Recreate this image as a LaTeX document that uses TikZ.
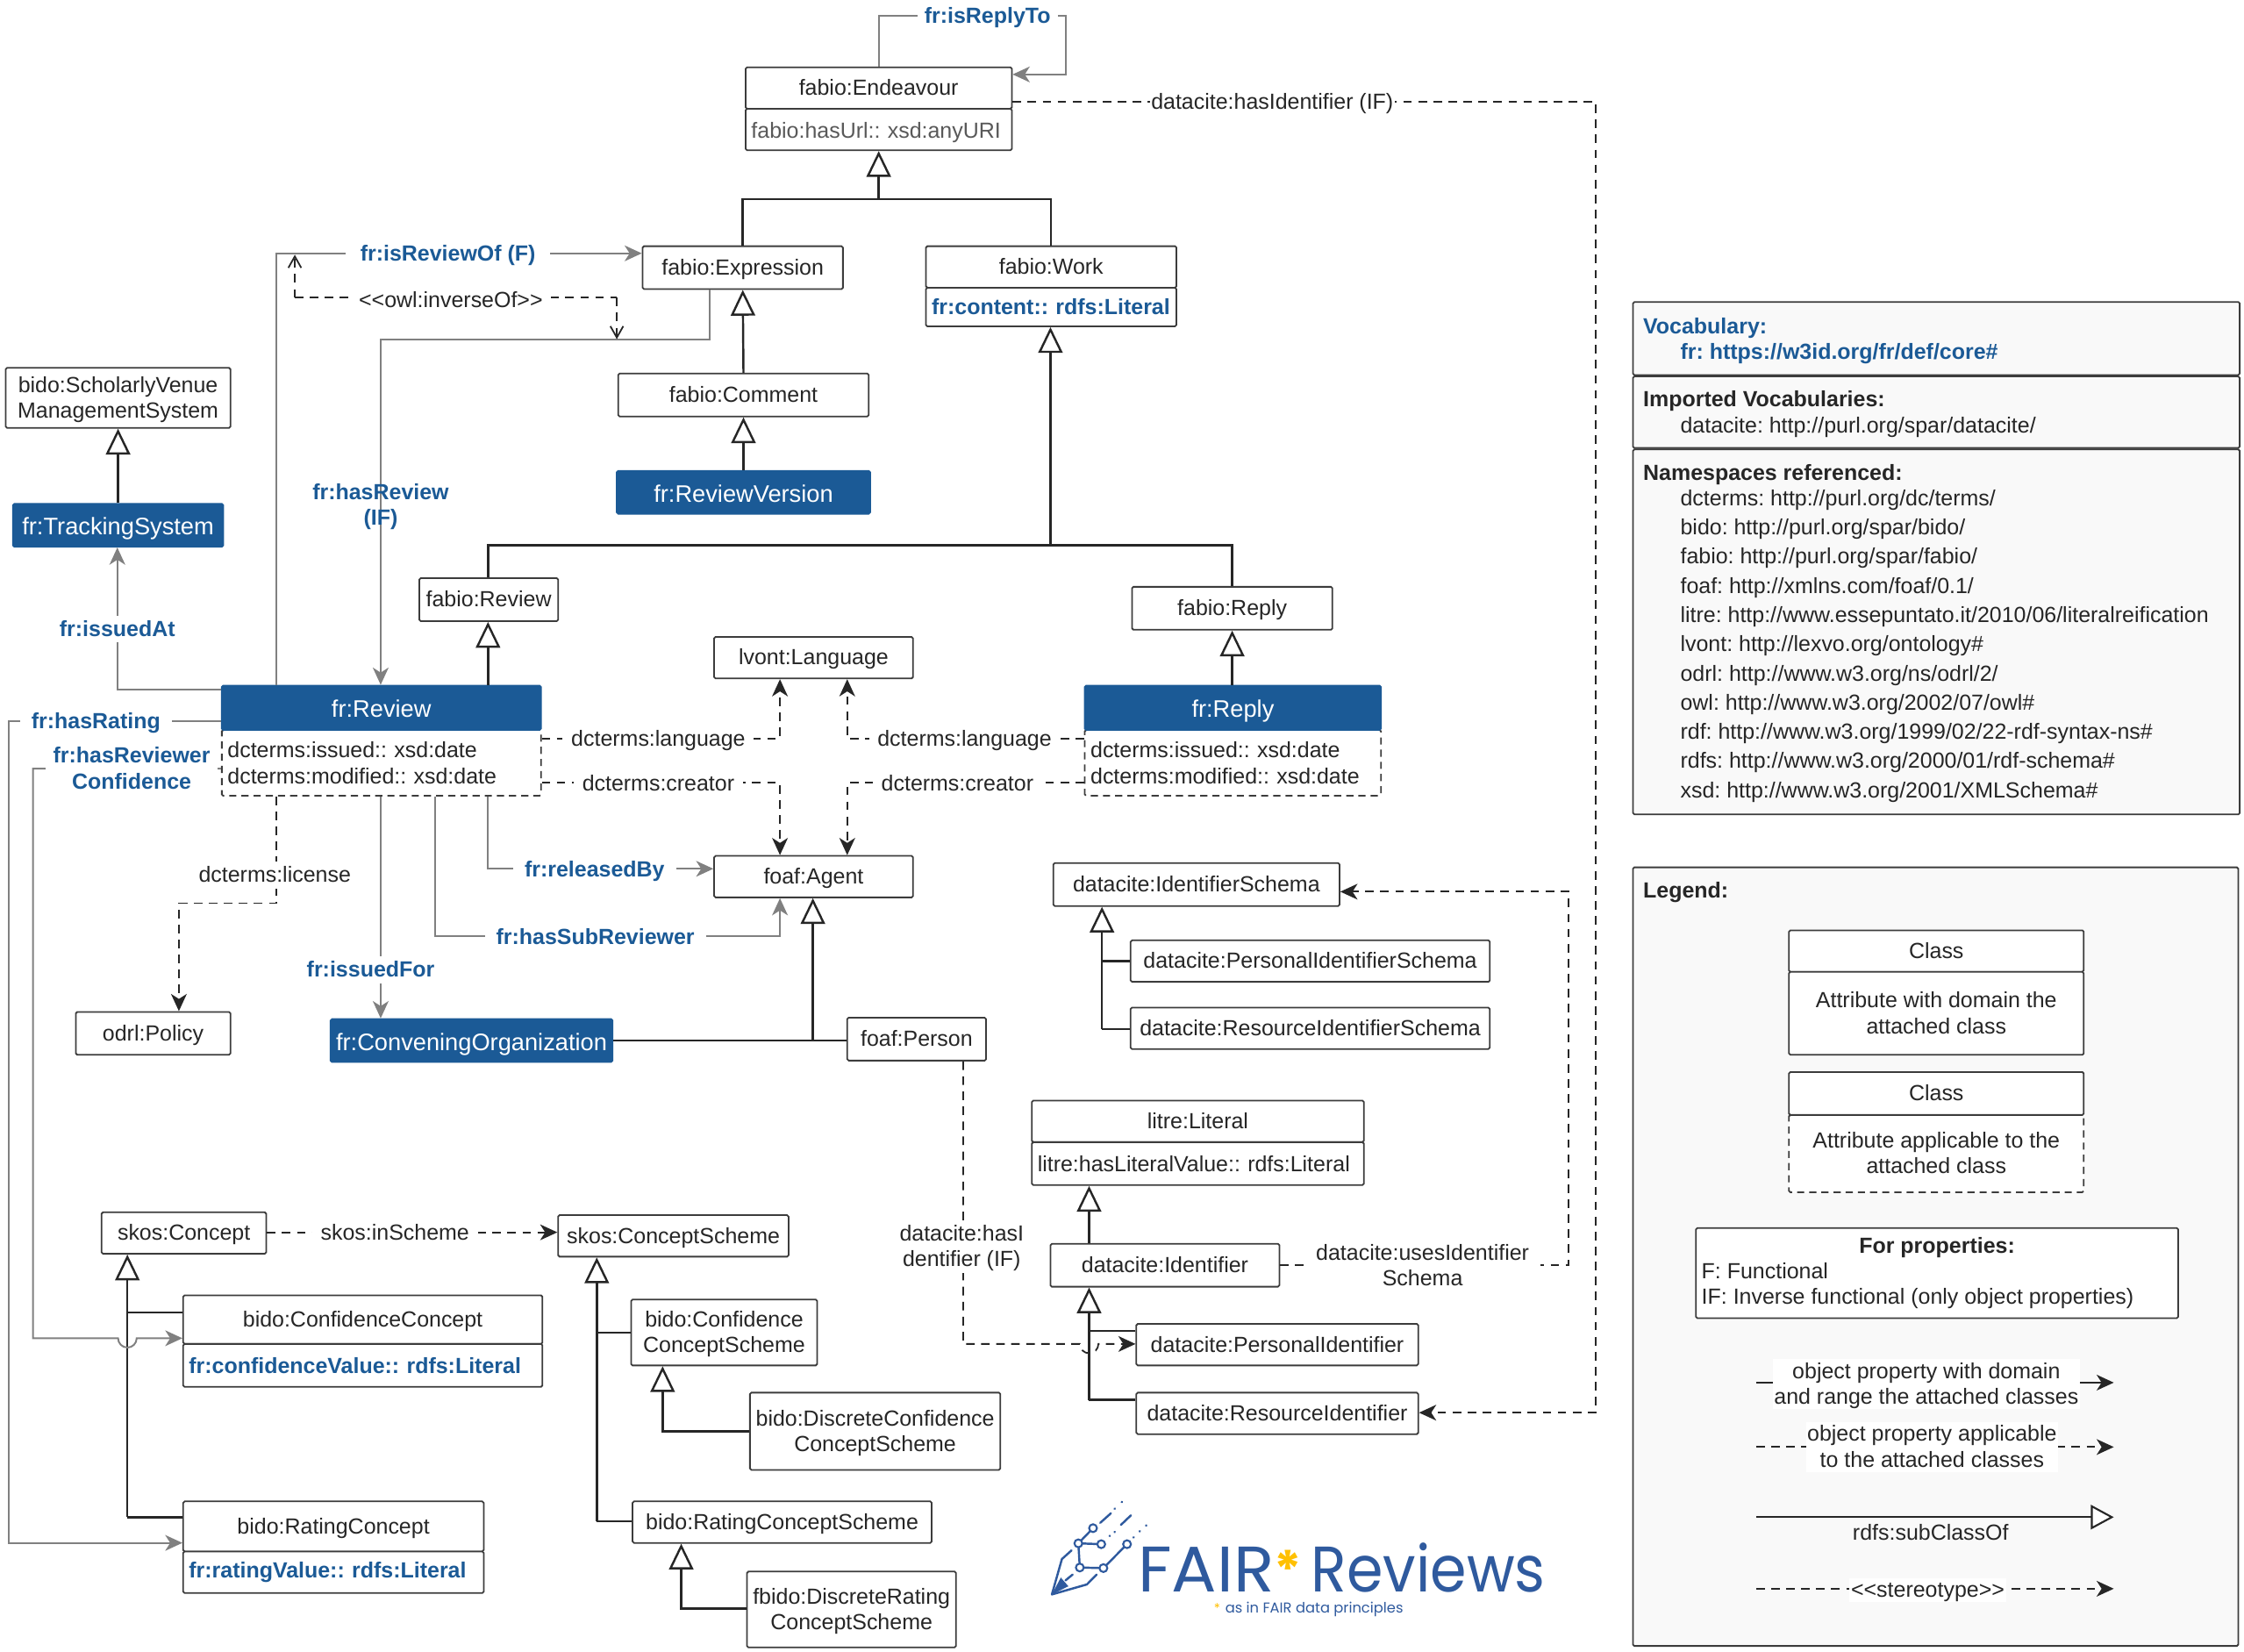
\documentclass[tikz,border=0pt]{standalone}
\usepackage{graphicx}
\usepackage{fontspec}
\setmainfont{Liberation Sans}
\newfontfamily\logofont{Poppins}
\usetikzlibrary{arrows.meta}
\definecolor{frblue}{HTML}{1B5A96}
\definecolor{ink}{HTML}{262626}
\definecolor{edge}{HTML}{3C3C3C}
\definecolor{propgray}{HTML}{808080}
\definecolor{panelbg}{HTML}{F9F9F9}
\definecolor{logoblue}{HTML}{2F5A9E}
\definecolor{logostar}{HTML}{FFC000}
\tikzset{
  x=1pt,y=-1pt,
  basefont/.style={font=\fontsize{15.3}{18}\selectfont,text=ink},
  boxbase/.style={basefont,draw=edge,line width=1.1pt,rounded corners=1pt,fill=white,inner sep=0pt,align=center},
  filledbox/.style={boxbase,fill=frblue,draw=frblue,text=white,font=\fontsize{16.7}{18}\selectfont},
  attrbox/.style={boxbase,align=left,inner xsep=4pt},
  dashbox/.style={attrbox,dash pattern=on 5pt off 3.5pt},
  panelbox/.style={boxbase,fill=panelbg},
  paneltext/.style={basefont,inner sep=0pt,align=left,anchor=north west},
  lab/.style={basefont,fill=white,inner xsep=6pt,inner ysep=1pt,align=center},
  plab/.style={lab,text=frblue,inner xsep=8pt,font=\fontsize{15.3}{18}\selectfont\bfseries},
  prop/.style={draw=propgray,line width=1.2pt},
  proparrow/.style={prop,-{Stealth[length=12pt,width=11pt,inset=3.5pt]}},
  dashline/.style={draw=ink,line width=1.1pt,dash pattern=on 6pt off 4.5pt},
  dasharrow/.style={dashline,-{Stealth[length=12pt,width=11pt,inset=3.5pt,fill=ink]}},
  thinarrow/.style={dashline,-{Straight Barb[length=8pt,width=9pt]}},
  subline/.style={draw=ink,line width=1.5pt},
  subarrow/.style={subline,-{Triangle[fill=white,length=18pt,width=17pt]}},
  logoline/.style={draw=logoblue,line width=1.5pt,line cap=round,line join=round},
  logodot/.style={draw=logoblue,fill=white,line width=1.3pt,circle,minimum size=5.5pt,inner sep=0pt},
}
\newcommand\bst{\rule{0pt}{13.5pt}}
\newcommand\est{\rule[-3.3pt]{0pt}{3.3pt}}
\newcommand\cls[7][boxbase]{\node[#1,minimum width={(#5-#3)*1pt},minimum height={(#6-#4)*1pt}] (#2) at ({(#3+#5)/2},{(#4+#6)/2}) {\bst #7\est};}
\newcommand\attrib[7][attrbox]{\node[#1,text width={(#5-#3-8)*1pt},minimum height={(#6-#4)*1pt}] (#2) at ({(#3+#5)/2},{(#4+#6)/2}) {#7};}
\newcommand\mklab[5][lab]{\node[#1] (#2) at (#3,#4) {\bst #5\est};}
\newcommand\blueattr[1]{\mbox{\textcolor{frblue}{\bfseries #1}}}
\newcommand\dlt{\textless\kern0pt\textless}
\newcommand\dgt{\textgreater\kern0pt\textgreater}
\begin{document}
\frenchspacing
\begin{tikzpicture}
\useasboundingbox (0,0) rectangle (1568,1154.2);
\fill[white] (0,0) rectangle (1568,1154.2);

% ---------- classes
\cls{endH}{521}{47}{707}{76}{fabio:Endeavour}
\attrib{endA}{521}{76}{707}{105}{\rule{0pt}{15.5pt}\textcolor{black!65}{fabio:hasUrl:: xsd:anyURI}\est}
\cls{expr}{449}{172}{589}{202}{fabio:Expression}
\cls{workH}{647}{172}{822}{201}{fabio:Work}
\attrib{workA}{647}{201}{822}{228}{\blueattr{fr:content:: rdfs:Literal}}
\cls{comment}{432}{261}{607}{291}{fabio:Comment}
\node[filledbox,minimum width=177pt,minimum height=30pt] (version) at (519.5,344) {\rule{0pt}{17pt}fr:ReviewVersion\est};
\cls{venue}{4}{257}{161}{299}{bido:ScholarlyVenue\\ManagementSystem}
\node[filledbox,minimum width=147pt,minimum height=30pt] (tracking) at (82.5,367) {\rule{0pt}{17pt}fr:TrackingSystem\est};
\cls{fabreview}{293}{404}{390}{434}{fabio:Review}
\attrib[dashbox]{revA}{155}{510}{378}{556}{dcterms:issued:: xsd:date\\dcterms:modified:: xsd:date}
\node[filledbox,minimum width=223pt,minimum height=31pt] (revH) at (266.5,494.5) {\rule{0pt}{17pt}fr:Review\est};
\cls{lang}{499}{445}{638}{474}{lvont:Language}
\cls{fabreply}{791}{410}{931}{440}{fabio:Reply}
\attrib[dashbox]{repA}{758}{510}{965}{556}{dcterms:issued:: xsd:date\\dcterms:modified:: xsd:date}
\node[filledbox,minimum width=207pt,minimum height=31pt] (repH) at (861.5,494.5) {\rule{0pt}{17pt}fr:Reply\est};
\cls{agent}{499}{598}{638}{627}{foaf:Agent}
\cls{person}{592}{711}{689}{741}{foaf:Person}
\cls{policy}{53}{707}{161}{737}{odrl:Policy}
\node[filledbox,minimum width=197pt,minimum height=30pt] (convening) at (329.5,727) {\rule{0pt}{17pt}fr:ConveningOrganization\est};
\cls{idschema}{736}{603}{936}{633}{datacite:IdentifierSchema}
\cls{pidschema}{790}{657}{1041}{686}{datacite:PersonalIdentifierSchema}
\cls{ridschema}{790}{704}{1041}{733}{datacite:ResourceIdentifierSchema}
\cls{litH}{721}{769}{953}{798}{litre:Literal}
\attrib{litA}{721}{798}{953}{828}{litre:hasLiteralValue:: rdfs:Literal}
\cls{ident}{734}{869}{894}{899}{datacite:Identifier}
\cls{pid}{794}{925}{991}{954}{datacite:PersonalIdentifier}
\cls{rid}{794}{973}{991}{1002}{datacite:ResourceIdentifier}
\cls{concept}{71}{847}{186}{876}{skos:Concept}
\cls{scheme}{390}{849}{551}{878}{skos:ConceptScheme}
\cls{confH}{128}{905}{379}{939}{bido:ConfidenceConcept}
\attrib{confA}{128}{939}{379}{969}{\blueattr{fr:confidenceValue:: rdfs:Literal}}
\cls{rateH}{128}{1049}{338}{1084}{bido:RatingConcept}
\attrib{rateA}{128}{1084}{338}{1113}{\blueattr{fr:ratingValue:: rdfs:Literal}}
\cls{confscheme}{441}{908}{571}{954}{bido:Confidence\\ConceptScheme}
\cls{dconf}{524}{973}{699}{1027}{bido:DiscreteConfidence\\ConceptScheme}
\cls{ratescheme}{442}{1049}{651}{1078}{bido:RatingConceptScheme}
\cls{drate}{522}{1098}{668}{1151}{fbido:DiscreteRating\\ConceptScheme}

% ---------- subclass connectors
\coordinate (j1) at (614,139);
\draw[subarrow] (j1) -- (endA.south -| j1);
\draw[subline] (expr.north) -- (expr.north |- j1) -- (workH.north |- j1) -- (workH.north);
\draw[subarrow] (comment.north) -- (expr.south);
\draw[subarrow] (version.north) -- (comment.south);
\draw[subarrow] (tracking.north) -- (venue.south);
\coordinate (j2) at (734,381);
\draw[subarrow] (j2) -- (workA.south -| j2);
\draw[subline] (fabreview.north -| 341,0) -- (341,381) -- (fabreply.north |- j2) -- (fabreply.north);
\draw[subarrow] (revH.north -| 341,0) -- (fabreview.south -| 341,0);
\draw[subarrow] (repH.north -| fabreply.south) -- (fabreply.south);
\coordinate (j3) at (568,727);
\draw[subarrow] (j3) -- (agent.south -| j3);
\draw[subline] (convening.east |- j3) -- (person.west |- j3);
\coordinate (j4) at (770,719);
\draw[subarrow] (j4) -- (idschema.south -| j4);
\draw[subline] (pidschema.west) -- (pidschema.west -| j4);
\draw[subline] (ridschema.west |- j4) -- (j4);
\draw[subarrow] (ident.north -| 761,0) -- (litA.south -| 761,0);
\coordinate (j5) at (761,978);
\draw[subarrow] (j5) -- (ident.south -| j5);
\draw[subline] (pid.west |- 0,930) -- (761,930);
\draw[subline] (rid.west |- j5) -- (j5);
\coordinate (j6) at (89,1060);
\draw[subarrow] (j6) -- (concept.south -| j6);
\draw[subline] (confH.west |- 0,917) -- (89,917);
\draw[subline] (rateH.west |- j6) -- (j6);
\coordinate (j7) at (417,1063);
\draw[subarrow] (j7) -- (scheme.south -| j7);
\draw[subline] (confscheme.west |- 0,931) -- (417,931);
\draw[subline] (ratescheme.west |- j7) -- (j7);
\draw[subarrow] (dconf.west |- 0,1000) -- (463,1000) -- (confscheme.south -| 463,0);
\draw[subarrow] (drate.west |- 0,1124) -- (476,1124) -- (ratescheme.south -| 476,0);

% ---------- gray object properties
\draw[proparrow] (endH.north) -- (endH.north |- 0,11) -- (745,11) -- (745,52) -- (endH.east |- 0,52);
\draw[proparrow] (revH.north -| 193,0) -- (193,177) -- (expr.west |- 0,177);
\draw[proparrow] (expr.south -| 496,0) -- (496,237) -- (266,237) -- (revH.north -| 266,0);
\draw[proparrow] (revH.west |- 0,482) -- (82,482) -- (tracking.south -| 82,0);
\draw[proparrow] (revH.west |- 0,504) -- (6,504) -- (6,1078) -- (rateH.west |- 0,1078);
\draw[proparrow] (revA.west |- 0,537) -- (23,537) -- (23,935) -- (82.5,935) arc[start angle=180,end angle=0,radius=6.5] -- (confH.west |- 0,935);
\draw[proparrow] (revA.south -| 341,0) -- (341,607) -- (agent.west |- 0,607);
\draw[proparrow] (revA.south -| 304,0) -- (304,654) -- (545,654) -- (agent.south -| 545,0);
\draw[proparrow] (revA.south -| 266,0) -- (convening.north -| 266,0);

% ---------- dashed object properties
\draw[dasharrow] (endH.east |- 0,71) -- (1115,71) -- (1115,987) -- (rid.east |- 0,987);
\draw[dasharrow] (revA.east |- 0,516) -- (545,516) -- (lang.south -| 545,0);
\draw[dasharrow] (revA.east |- 0,547) -- (545,547) -- (agent.north -| 545,0);
\draw[dasharrow] (repA.west |- 0,516) -- (592,516) -- (lang.south -| 592,0);
\draw[dasharrow] (repA.west |- 0,547) -- (592,547) -- (agent.north -| 592,0);
\draw[dasharrow] (revA.south -| 193,0) -- (193,631) -- (125,631) -- (policy.north -| 125,0);
\draw[dasharrow] (person.south -| 673,0) -- (673,939) -- (754.5,939) arc[start angle=180,end angle=0,radius=6.5] -- (pid.west |- 0,939);
\draw[dasharrow] (ident.east |- 0,884) -- (1096,884) -- (1096,623) -- (idschema.east |- 0,623);
\draw[dasharrow] (concept.east |- 0,861) -- (scheme.west |- 0,861);
\coordinate (inv1) at (206,178);
\coordinate (inv2) at (431,237);
\draw[thinarrow] (inv1 |- 0,208) -- (inv1);
\draw[thinarrow] (inv2 |- 0,208) -- (inv2);
\draw[dashline] (inv1 |- 0,208) -- (inv2 |- 0,208);

% ---------- connector labels
\mklab[plab,inner xsep=5pt]{lReply}{690}{11}{fr:isReplyTo}
\mklab[lab,inner xsep=1pt]{lHasId}{889}{71}{datacite:hasIdentifier (IF)}
\mklab[plab,inner xsep=10pt]{lRevOf}{313}{177}{fr:isReviewOf (F)}
\mklab{lInv}{315}{210}{\dlt owl:inverseOf\dgt}
\mklab[plab,fill=none]{lHasRev}{266}{353}{fr:hasReview\\(IF)}
\mklab[plab]{lIssuedAt}{82}{439.5}{fr:issuedAt}
\mklab[plab]{lRating}{67}{504}{fr:hasRating}
\mklab[plab,inner xsep=5pt]{lConf}{92}{537}{fr:hasReviewer\\Confidence}
\mklab{lLangL}{460}{516.5}{dcterms:language}
\mklab{lCreaL}{460}{547.5}{dcterms:creator}
\mklab{lLangR}{674}{516.5}{dcterms:language}
\mklab{lCreaR}{669}{547.5}{dcterms:creator}
\mklab{lLic}{192}{611.5}{dcterms:license}
\mklab[plab]{lRel}{415.5}{607.5}{fr:releasedBy}
\mklab[plab]{lSub}{416}{654.5}{fr:hasSubReviewer}
\mklab[plab]{lFor}{259}{677.5}{fr:issuedFor}
\mklab{lPidProp}{672}{871}{datacite:hasI\\dentifier (IF)}
\mklab[lab,inner xsep=8pt]{lUses}{994}{884.5}{datacite:usesIdentifier\\Schema}
\mklab{lIn}{276}{861.5}{skos:inScheme}

% ---------- vocabulary panels
\cls[panelbox]{pVoc}{1141}{211}{1565}{262}{}
\cls[panelbox]{pImp}{1141}{263}{1565}{313}{}
\cls[panelbox]{pNs}{1141}{314}{1565}{569}{}
\node[paneltext,text=frblue,font=\fontsize{15.3}{18}\selectfont\bfseries] (tVoc) at (1148,222) {Vocabulary:\\\hspace*{26pt}fr: https://w3id.org/fr/def/core\#};
\node[paneltext] (tImp) at (1148,273) {\textbf{Imported Vocabularies:}\\\hspace*{26pt}datacite: http://purl.org/spar/datacite/};
\node[paneltext] (tNsH) at (1148,324.5) {\textbf{Namespaces referenced:}};
\node[paneltext,font=\fontsize{15.3}{20.4}\selectfont] (tNs) at (1174,342) {dcterms: http://purl.org/dc/terms/\\
bido: http://purl.org/spar/bido/\\
fabio: http://purl.org/spar/fabio/\\
foaf: http://xmlns.com/foaf/0.1/\\
litre: http://www.essepuntato.it/2010/06/literalreification\\
lvont: http://lexvo.org/ontology\#\\
odrl: http://www.w3.org/ns/odrl/2/\\
owl: http://www.w3.org/2002/07/owl\#\\
rdf: http://www.w3.org/1999/02/22-rdf-syntax-ns\#\\
rdfs: http://www.w3.org/2000/01/rdf-schema\#\\
xsd: http://www.w3.org/2001/XMLSchema\#};

% ---------- legend
\cls[panelbox]{pLeg}{1141}{606}{1564}{1150}{}
\node[paneltext] (tLeg) at (1148,616) {\textbf{Legend:}};
\cls{legAH}{1250}{650}{1456}{679}{Class}
\cls{legAA}{1250}{679}{1456}{737}{Attribute with domain the\\attached class}
\cls[boxbase,dash pattern=on 5pt off 3.5pt]{legBA}{1250}{779}{1456}{833}{Attribute applicable to the\\attached class}
\cls{legBH}{1250}{749}{1456}{779}{Class}
\node[boxbase,align=left,minimum width=337pt,minimum height=63pt] (legProp) at (1353.5,889.5) {\raisebox{-2pt}{\begin{minipage}{329pt}\centering\textbf{For properties:}\par\raggedright F: Functional\\IF: Inverse functional (only object properties)\end{minipage}}};
\coordinate (leg1a) at (1227,966);
\coordinate (leg1b) at (1477,966);
\coordinate (leg2a) at (1227,1011);
\coordinate (leg2b) at (1477,1011);
\coordinate (leg3a) at (1227,1060);
\coordinate (leg3b) at (1477,1060);
\coordinate (leg4a) at (1227,1110);
\coordinate (leg4b) at (1477,1110);
\draw[draw=ink,line width=1.1pt,-{Stealth[length=12pt,width=11pt,inset=3.5pt]}] (leg1a) -- (leg1b);
\draw[dasharrow] (leg2a) -- (leg2b);
\draw[subline,line width=1.3pt,-{Triangle[fill=white,length=16pt,width=17pt]}] (leg3a) -- (leg3b);
\draw[dasharrow] (leg4a) -- (leg4b);
\mklab[lab,inner xsep=1pt,inner ysep=0pt]{tLeg1}{1346}{967}{object property with domain\\and range the attached classes}
\mklab[lab,inner xsep=1pt,inner ysep=0pt]{tLeg2}{1350}{1011}{object property applicable\\to the attached classes}
\mklab[basefont,inner sep=0pt]{tLeg3}{1349}{1071}{rdfs:subClassOf}
\mklab[lab,inner xsep=1pt,inner ysep=0pt]{tLeg4}{1347}{1111}{\dlt stereotype\dgt}

% ---------- logo
\node[anchor=base west,inner sep=0pt,text=logoblue,font=\logofont\fontsize{45}{45}\selectfont] (logoA) at (795,1112) {\scalebox{1.04}[1]{FAIR}};
\node[anchor=base west,inner sep=0pt,text=logostar,font=\logofont\bfseries\fontsize{36}{36}\selectfont] (logoS) at (890,1110) {*};
\node[anchor=base west,inner sep=0pt,text=logoblue,font=\logofont\fontsize{45}{45}\selectfont] (logoB) at (916,1112) {\scalebox{.91}[1]{Reviews}};
\node[anchor=base west,inner sep=0pt,text=logostar,font=\logofont\fontsize{9}{9}\selectfont] (logoC) at (848,1127) {*};
\node[anchor=base west,inner sep=0pt,text=logoblue,font=\logofont\fontsize{10}{10}\selectfont] (logoD) at (856,1127) {as in FAIR data principles};
\draw[logoline] (748.75,1083.2) -- (742,1089.3) -- (735,1114) -- (759.5,1107) -- (766.25,1100.1);
\fill[logoblue] (735,1114) -- (741.25,1102.2) -- (746.5,1108.3) -- cycle;
\draw[logoline] (744.5,1104.2) -- (749.5,1100.1);
\draw[logoline] (763.75,1067.7) -- (753.5,1078.3) -- (769.5,1078.9);
\draw[logoline] (753.5,1078.3) -- (754.5,1095.2) -- (771,1095.6) -- (787.5,1078.9);
\node[logodot] (d1) at (763.75,1067.7) {};
\node[logodot] (d2) at (753.5,1078.3) {};
\node[logodot] (d3) at (769.5,1078.9) {};
\node[logodot] (d4) at (787.5,1078.9) {};
\node[logodot] (d5) at (754.5,1095.2) {};
\node[logodot] (d6) at (771,1095.6) {};
\draw[logoline] (768.75,1064) -- (776.25,1057.3);
\draw[logoline] (778.75,1054.2) -- (779,1054);
\draw[logoline] (783.75,1049.5) -- (784,1049.3);
\draw[logoline] (783.25,1065.4) -- (790.25,1058.7);
\draw[logoline] (778.75,1070.5) -- (779,1070.3);
\draw[logoline] (775.25,1073.2) -- (775.5,1073);
\draw[logoline] (792,1074.2) -- (792.2,1074);
\draw[logoline] (796.25,1070) -- (796.5,1069.8);
\draw[logoline] (800.75,1065.9) -- (801,1065.7);
\end{tikzpicture}
\end{document}
